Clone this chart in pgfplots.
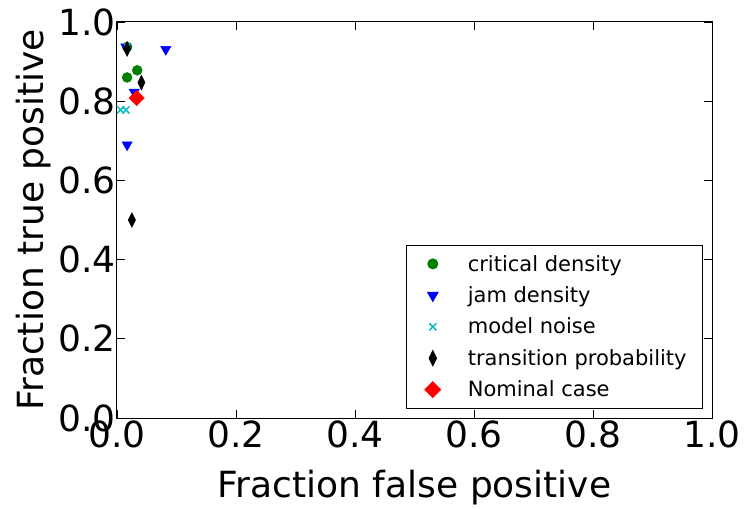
\documentclass[border=0pt]{standalone}
\usepackage{pgfplots}
\pgfplotsset{compat=1.18}
\usepackage{fontspec}
\setmainfont{DejaVu Sans}
\definecolor{mgreen}{rgb}{0,0.5,0}
\definecolor{mcyan}{rgb}{0,0.75,0.75}
\begin{document}
\begin{tikzpicture}
\begin{axis}[
  scale only axis, width=595pt, height=396pt,
  xmin=0, xmax=1, ymin=0, ymax=1,
  xtick={0,0.2,0.4,0.6,0.8,1.0}, ytick={0,0.2,0.4,0.6,0.8,1.0},
  tick pos=both, tick align=inside, major tick length=8pt,
  /pgf/number format/assume math mode=true,
  /pgf/number format/.cd, fixed, fixed zerofill, precision=1, /pgfplots/.cd,
  tick label style={font=\fontsize{36}{40}\selectfont},
  label style={font=\fontsize{36}{40}\selectfont},
  xticklabel style={yshift=1pt},
  yticklabel style={xshift=2pt},
  xlabel={Fraction false positive},
  ylabel={Fraction true positive},
  xlabel style={yshift=-16pt},
  axis line style={line width=1pt}, every tick/.style={black, line width=0.8pt},
  clip=false,
  legend style={at={(axis description cs:0.985,0.023)}, anchor=south east,
    draw=black, line width=1pt, font=\fontsize{21}{25}\selectfont,
    row sep=10pt, inner xsep=14pt, inner ysep=8pt, cells={anchor=west}},
  legend cell align=left,
  every axis plot post/.append style={
    legend image code/.code={\path[draw=none,fill=none] (0pt,-4pt) rectangle (45pt,4pt);
      \draw[mark repeat=2,mark phase=2] plot coordinates {(0pt,0pt) (12pt,0pt) (45pt,0pt)};}},
]
\addplot[only marks, mark=*, mark size=5pt, color=mgreen] coordinates {
  (0.017,0.937) (0.017,0.860) (0.034,0.878)};
\addlegendentry{critical density}
\addplot[only marks, mark=triangle*, mark size=6pt, color=blue, mark options={rotate=180}] coordinates {
  (0.015,0.937) (0.082,0.931) (0.029,0.823) (0.017,0.690)};
\addlegendentry{jam density}
\addplot[only marks, mark=x, mark size=5pt, color=mcyan, mark options={line width=1.5pt}] coordinates {
  (0.017,0.937) (0.006,0.778) (0.015,0.778)};
\addlegendentry{model noise}
\addplot[only marks, mark=diamond*, mark size=7.5pt, color=black, mark options={xscale=0.65}] coordinates {
  (0.017,0.932) (0.041,0.847) (0.025,0.500)};
\addlegendentry{transition probability}
\addplot[only marks, mark=square*, mark size=5.5pt, color=red, mark options={rotate=45}] coordinates {
  (0.033,0.808)};
\addlegendentry{Nominal case}
\coordinate (sw) at (rel axis cs:0,0);
\end{axis}
\path (sw) ++(-117pt,-85pt) rectangle ++(746pt,503pt);
\end{tikzpicture}
\end{document}
